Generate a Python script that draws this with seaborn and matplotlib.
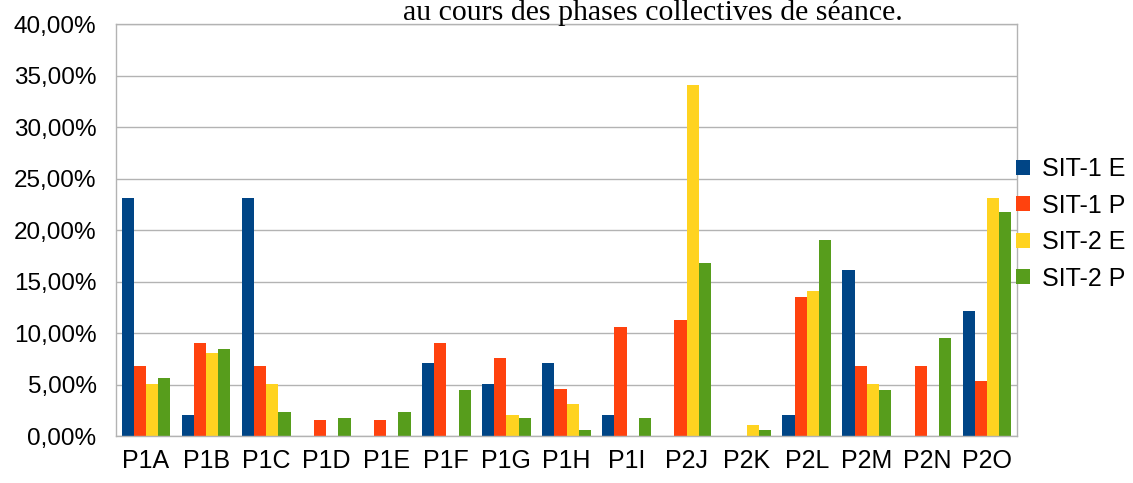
import pandas as pd
import matplotlib.pyplot as plt
import seaborn as sns
from matplotlib.ticker import FuncFormatter, FixedLocator
import numpy as np

sns.set_style("white")
plt.rcParams['font.family'] = ['Liberation Sans', 'DejaVu Sans']
plt.rcParams['text.color'] = 'black'
plt.rcParams['xtick.labelcolor'] = 'black'
plt.rcParams['ytick.labelcolor'] = 'black'

# Données
categories = ['P1A', 'P1B', 'P1C', 'P1D', 'P1E', 'P1F', 'P1G', 'P1H',
              'P1I', 'P2J', 'P2K', 'P2L', 'P2M', 'P2N', 'P2O']
series = ['SIT-1 E', 'SIT-1 P', 'SIT-2 E', 'SIT-2 P']
sit1_e = [23.1, 2.05, 23.1, 0, 0, 7.1, 5.05, 7.1, 2.05, 0, 0, 2.05, 16.1, 0, 12.1]
sit1_p = [6.8, 9.0, 6.8, 1.55, 1.55, 9.0, 7.6, 4.55, 10.6, 11.25, 0, 13.5, 6.8, 6.8, 5.35]
sit2_e = [5.05, 8.05, 5.05, 0, 0, 0, 2.05, 3.1, 0, 34.1, 1.05, 14.1, 5.05, 0, 23.1]
sit2_p = [5.6, 8.45, 2.3, 1.75, 2.3, 4.45, 1.75, 0.6, 1.75, 16.8, 0.55, 19.0, 4.5, 9.5, 21.7]
couleurs = ['#004586', '#ff420e', '#ffd320', '#579d1c']

df = pd.DataFrame({
    'cat': categories * 4,
    'serie': np.repeat(series, len(categories)),
    'val': sit1_e + sit1_p + sit2_e + sit2_p,
})

fig = plt.figure(figsize=(11.33, 4.83), dpi=100)
ax = fig.add_axes([0.1024, 0.0973, 0.7952, 0.853])

sns.barplot(data=df, x='cat', y='val', hue='serie', palette=couleurs,
            saturation=1, width=0.81, gap=0, linewidth=0, ax=ax, errorbar=None)

ax.set_ylim(0, 40)
ax.set_xlim(-0.5, len(categories) - 0.5)
ax.set_yticks(np.arange(0, 41, 5))
ax.yaxis.set_major_formatter(FuncFormatter(lambda v, p: f'{v:.2f}'.replace('.', ',') + '%'))
ax.grid(axis='y', color='#b3b3b3', linewidth=1)
ax.set_axisbelow(True)
ax.set_xlabel('')
ax.set_ylabel('')

for s in ax.spines.values():
    s.set_color('#b3b3b3')
    s.set_linewidth(1)

ax.tick_params(axis='x', which='major', length=0, labelsize=18, pad=9)
ax.xaxis.set_minor_locator(FixedLocator(np.arange(-0.5, len(categories), 1)))
ax.tick_params(axis='x', which='minor', length=8, color='#b3b3b3', width=1)
ax.tick_params(axis='y', length=4, color='#b3b3b3', labelsize=17.5, pad=10)

ax.legend(loc='center left', bbox_to_anchor=(0.999, 0.515), frameon=False,
          fontsize=18, handlelength=0.55, handleheight=0.55, handletextpad=0.5,
          labelspacing=0.5, borderaxespad=0, borderpad=0)

fig.text(0.576, 0.959, 'au cours des phases collectives de séance.',
         ha='center', va='baseline', fontsize=21.5, family='Liberation Serif')

plt.savefig('out.png', dpi=100)
